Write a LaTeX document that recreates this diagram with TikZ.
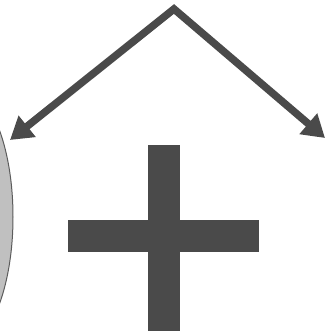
\documentclass[tikz,border=0pt]{standalone}
\usetikzlibrary{arrows.meta}
\definecolor{dk}{HTML}{4A4A4A}
\definecolor{lg}{HTML}{C0C0C0}
\begin{document}
\begin{tikzpicture}[x=1pt,y=-1pt,
  tip/.tip={Triangle[length=22pt,width=26pt]},
  arr/.style={draw=dk,line width=7.5pt,line join=miter,tip-tip},
  bar/.style={fill=dk,draw=none}]
\useasboundingbox (0,0) rectangle (325,331);
\begin{scope}
\clip (0,0) rectangle (325,331);
\fill[lg,draw=dk!90,line width=1pt] (-40,217) ellipse [x radius=53, y radius=130];
\coordinate (apex) at (174,9);
\coordinate (ltip) at (10,140);
\coordinate (rtip) at (325,138);
\draw[arr] (ltip) -- (apex) -- (rtip);
\fill[bar] (148,145) rectangle (180,331);
\fill[bar] (68,220) rectangle (259,252);
\end{scope}
\end{tikzpicture}
\end{document}
